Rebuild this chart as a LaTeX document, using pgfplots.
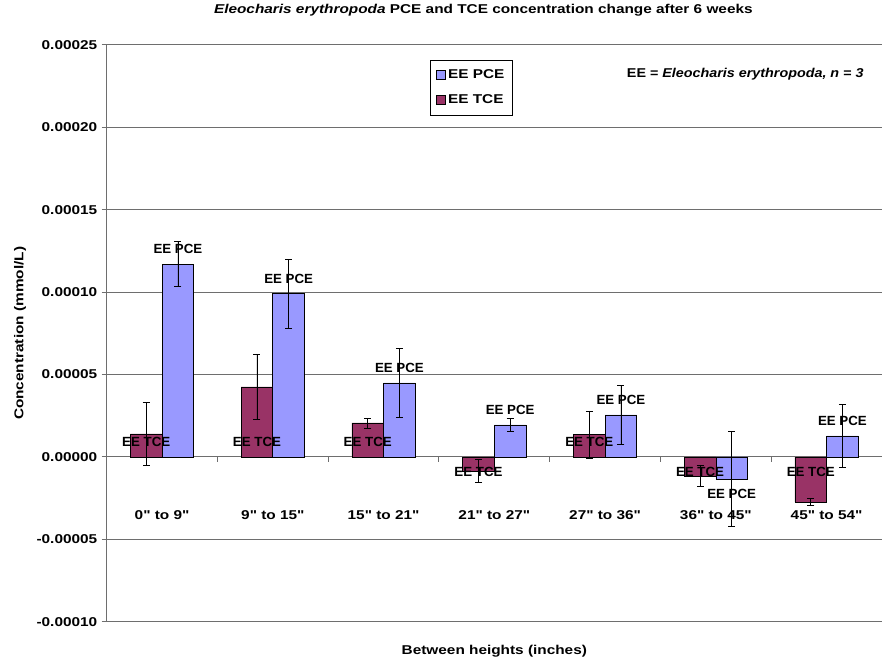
\documentclass[border=0pt]{standalone}
\usepackage{pgfplots}
\pgfplotsset{compat=1.18}
\usepackage{pgfplotstable}
\usepackage{fontspec}
\setmainfont{Liberation Sans}[FakeStretch=1.2, Ligatures=TeXOff]
\newfontfamily\lab{Liberation Sans}[Ligatures=TeXOff]
\newfontfamily\anno{Liberation Sans}[FakeStretch=1.12, Ligatures=TeXOff]
\definecolor{pce}{RGB}{153,153,255}
\definecolor{tce}{RGB}{153,51,102}
\definecolor{gridc}{RGB}{110,110,110}

\pgfplotstableread{
x tce tceerr pce pceerr
0 1.40e-5 1.9e-5 1.17e-4 1.35e-5
1 4.25e-5 2.0e-5 9.9e-5 2.1e-5
2 2.06e-5 0.3e-5 4.49e-5 2.1e-5
3 -0.85e-5 0.67e-5 1.94e-5 0.4e-5
4 1.34e-5 1.45e-5 2.55e-5 1.8e-5
5 -1.15e-5 0.66e-5 -1.34e-5 2.9e-5
6 -2.73e-5 0.2e-5 1.27e-5 1.9e-5
}\data

\begin{document}
\fontsize{12.8}{15}\selectfont\bfseries
\begin{tikzpicture}
\path[use as bounding box] (-106.7pt,-41.3pt) rectangle (776.3pt,621.7pt);
\begin{axis}[
  at={(0pt,0pt)}, anchor=south west,
  scale only axis, width=775.3pt, height=576.7pt,
  xmin=-0.5, xmax=6.5, ymin=-0.0001, ymax=0.00025,
  ybar, bar width=0.286,
  axis x line*=middle, axis y line*=left,
  axis line style={gridc, line width=1pt},
  ytick={-0.0001,-0.00005,0,0.00005,0.0001,0.00015,0.0002,0.00025},
  scaled y ticks=false,
  yticklabel style={/pgf/number format/fixed, /pgf/number format/precision=5,
    /pgf/number format/fixed zerofill, /pgf/number format/assume math mode=true},
  ymajorgrids, grid style={gridc, line width=1pt},
  tick style={gridc, line width=1pt},
  tick align=outside, major tick length=5pt, minor tick length=5pt,
  xtick={0,...,6},
  xticklabels={0" to 9",9" to 15",15" to 21",21" to 27",27" to 36",36" to 45",45" to 54"},
  major x tick style={draw=none},
  minor xtick={0.5,1.5,2.5,3.5,4.5,5.5},
  xticklabel style={/pgf/number format/assume math mode=true, yshift=-44pt},
  every axis title/.style={at={(rel axis cs:0.5,1)}, anchor=base, yshift=31pt, xshift=-11pt},
  title={\textit{Eleocharis erythropoda} PCE and TCE concentration change after 6 weeks},
  every axis x label/.style={at={(rel axis cs:0.5,0)}, anchor=base, yshift=-33.3pt},
  xlabel={Between heights (inches)},
  every axis y label/.style={at={(rel axis cs:0,0.5)}, rotate=90, anchor=center, yshift=86.7pt},
  ylabel={Concentration (mmol/L)},
  legend style={at={(rel axis cs:0.417,0.974)}, anchor=north west, draw=black,
    line width=0.8pt, row sep=10pt, inner xsep=6pt, inner ysep=7.5pt},
  legend cell align=left,
  legend image code/.code={\draw[#1, line width=0.7pt] (0pt,-4.5pt) rectangle (9pt,4.5pt);},
  every node near coord/.append style={font={\fontsize{13.3}{15}\lab\bfseries}, black, inner ysep=10pt},
]
\addplot[bar shift=0.143, fill=pce, draw=black, line width=0.7pt,
  nodes near coords={EE PCE},
  error bars/.cd, y dir=both, y explicit,
  error bar style={black, line width=0.8pt},
  error mark options={rotate=90, black, mark size=3.5pt, line width=0.8pt}]
  table[x=x, y=pce, y error=pceerr] {\data};
\addplot[bar shift=-0.143, fill=tce, draw=black, line width=0.7pt,
  error bars/.cd, y dir=both, y explicit,
  error bar style={black, line width=0.8pt},
  error mark options={rotate=90, black, mark size=3.5pt, line width=0.8pt}]
  table[x=x, y=tce, y error=tceerr] {\data};
\addplot[forget plot, only marks, mark=none, bar shift=-0.143, nodes near coords={EE TCE},
  every node near coord/.append style={anchor=south}]
  coordinates {(0,0) (1,0) (2,0) (4,0)};
\addplot[forget plot, only marks, mark=none, bar shift=-0.143, nodes near coords={EE TCE},
  every node near coord/.append style={anchor=north}]
  coordinates {(3,0) (5,0) (6,0)};
\legend{EE PCE, EE TCE}
\node[anchor=base east, font=\anno\bfseries] at (rel axis cs:0.982,0.9428) {EE = \textit{Eleocharis erythropoda, n = 3}};
\end{axis}
\end{tikzpicture}
\end{document}
